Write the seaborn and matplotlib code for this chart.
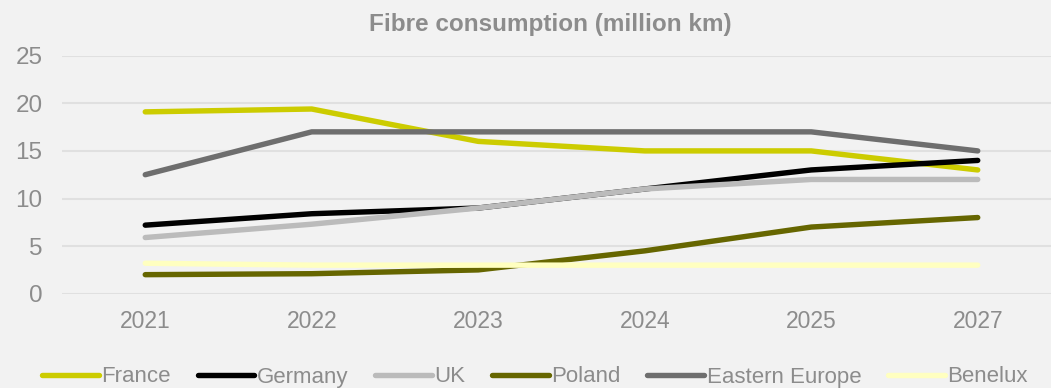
import matplotlib
matplotlib.use("Agg")
import matplotlib.pyplot as plt
import seaborn as sns
import pandas as pd

years = ["2021", "2022", "2023", "2024", "2025", "2027"]
france = [19.1, 19.4, 16.0, 15.0, 15.0, 13.0]
germany = [7.2, 8.4, 9.0, 11.0, 13.0, 14.0]
uk = [5.9, 7.3, 9.0, 11.0, 12.0, 12.0]
poland = [2.0, 2.1, 2.5, 4.5, 7.0, 8.0]
eastern_europe = [12.5, 17.0, 17.0, 17.0, 17.0, 15.0]
benelux = [3.2, 3.0, 3.0, 3.0, 3.0, 3.0]

series = {
    "France": france,
    "Germany": germany,
    "UK": uk,
    "Poland": poland,
    "Eastern Europe": eastern_europe,
    "Benelux": benelux,
}
colors = {
    "France": "#CCCC00",
    "Germany": "#000000",
    "UK": "#BBBBBB",
    "Poland": "#666600",
    "Eastern Europe": "#6E6E6E",
    "Benelux": "#FFFFC0",
}

rows = []
for name, vals in series.items():
    for i, (yr, v) in enumerate(zip(years, vals)):
        rows.append({"pos": i, "year": yr, "region": name, "value": v})
df = pd.DataFrame(rows)

sns.set_theme(style="white")
plt.rcParams["font.family"] = ["Liberation Sans", "DejaVu Sans"]
text_color = "#8C8C8C"
bg = "#F2F2F2"

W, H = 1051, 388
fig = plt.figure(figsize=(W / 100, H / 100), dpi=100, facecolor=bg)
# plot area: x from 62 px to the right edge, y from 25 (55.7 px) to 0 (293.7 px)
ax = fig.add_axes([62 / W, (H - 293.7) / H, (W - 62) / W, 238 / H])
ax.set_facecolor(bg)

sns.lineplot(data=df, x="pos", y="value", hue="region", palette=colors,
             hue_order=list(series.keys()), linewidth=3.9, ax=ax,
             solid_capstyle="round", solid_joinstyle="round", legend=False)

ax.set_ylim(0, 25)
ax.set_xlim(-0.5, 5.44)
ax.set_yticks([0, 5, 10, 15, 20, 25])
ax.set_xticks(range(len(years)))
ax.set_xticklabels(years)
ax.yaxis.grid(True, color="#E0E0E0", linewidth=1.5)
ax.set_axisbelow(True)
for s in ax.spines.values():
    s.set_visible(False)
ax.tick_params(axis="both", length=0, colors=text_color)
ax.tick_params(axis="x", pad=12, labelsize=16.5)
ax.tick_params(axis="y", pad=14, labelsize=17.5)
ax.set_xlabel("")
ax.set_ylabel("")

fig.text(550 / W, (H - 24) / H, "Fibre consumption (million km)", ha="center",
         va="center", fontsize=17.5, fontweight="bold", color=text_color)

handles = [plt.Line2D([0], [0], color=colors[n], linewidth=3.9, solid_capstyle="round")
           for n in series]
leg = fig.legend(handles, list(series.keys()), loc="center", ncol=6,
                 bbox_to_anchor=(535 / W, (H - 377) / H), frameon=False,
                 fontsize=16, handlelength=2.55, handletextpad=0.12,
                 columnspacing=1.2, borderpad=0, borderaxespad=0)
for t in leg.get_texts():
    t.set_color(text_color)

fig.savefig("out.png", dpi=100, facecolor=bg)
